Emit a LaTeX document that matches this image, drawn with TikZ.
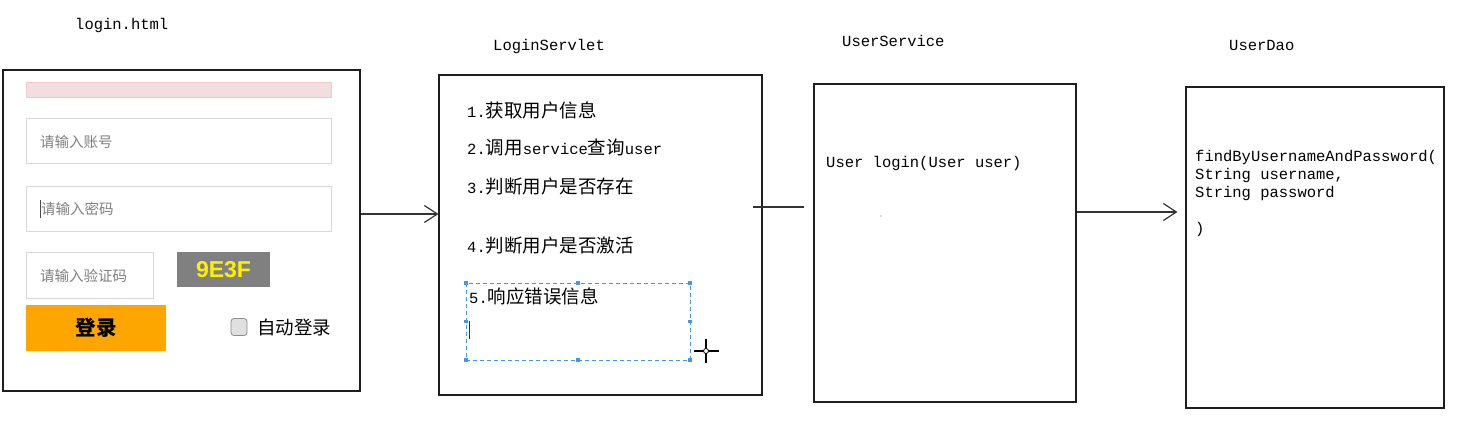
\documentclass[tikz,border=0pt]{standalone}
\usepackage{fontspec}
\usetikzlibrary{arrows.meta}
\newfontfamily\monof{Liberation Mono}
\newfontfamily\cjkf{Noto Sans CJK SC}
\newcommand\zhtxt[1]{{\cjkf\fontsize{18.5pt}{20pt}\selectfont #1}}
\definecolor{boxline}{RGB}{30,30,30}
\definecolor{selblue}{RGB}{70,150,230}
\definecolor{pinkbar}{RGB}{242,222,222}
\definecolor{btnorange}{RGB}{255,165,0}
\definecolor{capgray}{RGB}{128,128,128}
\definecolor{capyellow}{RGB}{255,240,0}
\tikzset{
  box/.style={draw=boxline, line width=1.1pt, inner sep=0, fill=white},
  lbl/.style={anchor=west, inner sep=0, font=\monof\fontsize{15.5pt}{17pt}\selectfont},
  conn/.style={draw=black!80, line width=1.2pt},
  arr/.style={conn, -{Straight Barb[length=13pt,width=17pt,line width=1.2pt]}},
  field/.style={draw=black!15, line width=1pt, fill=white, inner sep=0},
  hint/.style={anchor=west, inner sep=0, text=black!50, font=\cjkf\fontsize{14.5pt}{16pt}\selectfont},
  handle/.style={fill=selblue, inner sep=0, minimum size=3.5pt, draw=none},
}
\begin{document}
\begin{tikzpicture}[x=1pt,y=-1pt]
\useasboundingbox (0,0) rectangle (1462,425);
% titles
\node[lbl] (t1) at (75,25) {login.html};
\node[lbl] (t2) at (493,46) {LoginServlet};
\node[lbl] (t3) at (842,41) {UserService};
\node[lbl] (t4) at (1229,45) {UserDao};

% boxes
\node[box, minimum width=357pt, minimum height=321pt] (login) at (181.5,230.5) {};
\node[box, minimum width=323pt, minimum height=320pt] (servlet) at (600.5,235) {};
\node[box, minimum width=262pt, minimum height=318pt] (service) at (945,243) {};
\node[box, minimum width=258pt, minimum height=321pt] (dao) at (1315,247.5) {};

% login form
\node[draw=pinkbar!90!red, fill=pinkbar, line width=0.6pt, inner sep=0, minimum width=305pt, minimum height=15pt] (bar) at (178.5,89.5) {};
\node[field, minimum width=305pt, minimum height=45pt] (in1) at (178.5,141.5) {};
\node[field, minimum width=305pt, minimum height=45pt] (in2) at (178.5,208.5) {};
\node[field, minimum width=127pt, minimum height=46pt] (in3) at (89.5,275) {};
\node[hint] (h1) at (40,142) {请输入账号};
\node[hint] (h2) at (41,209) {请输入密码};
\node[hint] (h3) at (40,276) {请输入验证码};
\draw[black!70, line width=0.8pt] (40.5,200) -- (40.5,218);
\node[fill=capgray, inner sep=0, minimum width=93pt, minimum height=35pt,
      text=capyellow, font=\fontspec{Liberation Sans}\bfseries\fontsize{23pt}{25pt}\selectfont] (cap) at (223.5,269.5) {9E3F};
\node[fill=btnorange, inner sep=0, minimum width=140pt, minimum height=46pt,
      font=\cjkf\bfseries\fontsize{20.5pt}{22pt}\selectfont] (btn) at (96,328) {登录};
\node[draw=black!45, fill=black!12, rounded corners=3pt, line width=0.8pt, inner sep=0, minimum width=16pt, minimum height=17pt] (chk) at (239,327) {};
\node[anchor=west, inner sep=0, font=\cjkf\fontsize{18.5pt}{20pt}\selectfont] (auto) at (257,327) {自动登录};

% servlet text
\node[lbl] (s1) at (467,110) {1.\zhtxt{获取用户信息}};
\node[lbl] (s2) at (467,148) {2.\zhtxt{调用}service\zhtxt{查询}user};
\node[lbl] (s3) at (467,186) {3.\zhtxt{判断用户是否存在}};
\node[lbl] (s4) at (467,245) {4.\zhtxt{判断用户是否激活}};
\node[lbl] (s5) at (469,296) {5.\zhtxt{响应错误信息}};
\draw[black!80, line width=0.9pt] (469.5,321) -- (469.5,339);
% selection rectangle
\draw[selblue, line width=1pt, dash pattern=on 4pt off 3pt] (466,283) rectangle (690,360);
\foreach \p in {(466,283),(578,283),(690,283),(690,321.5),(690,360),(578,360),(466,360),(466,321.5)}
  \node[handle] at \p {};
% crosshair cursor
\draw[black, line width=1.2pt] (694,351) -- (719,351) (706,339) -- (706,363);
\draw[black, fill=white, line width=0.8pt] (706,351) circle (2.5pt);

% service text
\node[lbl] (u1) at (826,163) {User login(User user)};
\fill[black!60] (881,216) circle (0.7pt);

% dao text
\node[lbl] (d1) at (1195,157) {findByUsernameAndPassword(};
\node[lbl] (d2) at (1195,175) {String username,};
\node[lbl] (d3) at (1195,193) {String password};
\node[lbl] (d4) at (1195,229) {)};

% connectors
\draw[arr] (login.east |- 0,214) -- (servlet.west |- 0,214);
\draw[conn, shorten <=-10pt, shorten >=9pt] (servlet.east |- 0,207) -- (service.west |- 0,207);
\draw[arr, shorten >=8pt] (service.east |- 0,212) -- (dao.west |- 0,212);
\end{tikzpicture}
\end{document}
